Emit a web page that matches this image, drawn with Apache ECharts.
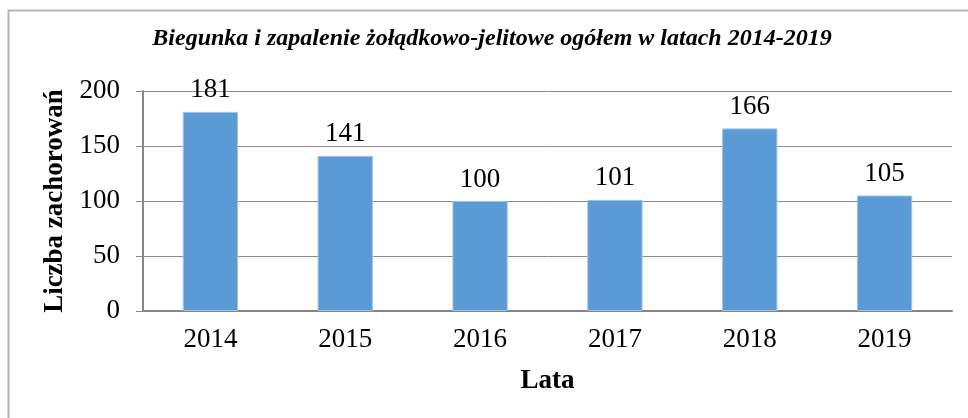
<!DOCTYPE html>
<html>
<head>
<meta charset="utf-8">
<script src="https://cdn.jsdelivr.net/npm/echarts@6/dist/echarts.min.js"></script>
<style>
  html, body { margin: 0; padding: 0; background: #fff; }
  #chart { width: 968px; height: 418px; }
</style>
</head>
<body>
<div id="chart"></div>
<script>
// Data
var years = ['2014', '2015', '2016', '2017', '2018', '2019'];
var cases = [181, 141, 100, 101, 166, 105];
var yTicks = [0, 50, 100, 150, 200];

var serif = '"Liberation Serif", "DejaVu Serif", serif';

var chart = echarts.init(document.getElementById('chart'), null, { renderer: 'canvas' });

chart.setOption({
    animation: false,
    textStyle: { fontFamily: serif },

    // Outer frame
    graphic: [{
        type: 'rect',
        shape: { x: 8.5, y: 10.5, width: 1000, height: 500 },
        style: { fill: 'none', stroke: '#b3b3b3', lineWidth: 2 },
        silent: true
    }],

    title: {
        text: 'Biegunka i zapalenie żołądkowo-jelitowe ogółem w latach 2014-2019',
        left: 487,
        textAlign: 'center',
        top: 22,
        textStyle: {
            fontFamily: serif,
            fontStyle: 'italic',
            fontWeight: 'bold',
            fontSize: 24,
            color: '#000'
        }
    },

    grid: { left: 143, right: 16, top: 91, bottom: 107 },

    xAxis: {
        type: 'category',
        data: years,
        name: 'Lata',
        nameLocation: 'middle',
        nameGap: 57,
        nameTextStyle: { fontFamily: serif, fontWeight: 'bold', fontSize: 27, color: '#000' },
        axisLine: { lineStyle: { color: '#868686', width: 2 } },
        axisTick: { show: false },
        axisLabel: { fontFamily: serif, fontSize: 27, color: '#000', margin: 15 }
    },

    yAxis: {
        type: 'value',
        min: yTicks[0],
        max: yTicks[yTicks.length - 1],
        interval: yTicks[1] - yTicks[0],
        name: 'Liczba zachorowań',
        nameLocation: 'middle',
        nameGap: 68,
        nameTextStyle: { fontFamily: serif, fontWeight: 'bold', fontSize: 27, color: '#000' },
        axisLine: { show: true, lineStyle: { color: '#868686', width: 2 } },
        axisTick: { show: true, length: 7, lineStyle: { color: '#868686', width: 1 } },
        axisLabel: { fontFamily: serif, fontSize: 27, color: '#000', margin: 23 },
        splitLine: { lineStyle: { color: '#8c8c8c', width: 1 } }
    },

    series: [{
        type: 'bar',
        data: cases,
        barWidth: '41%',
        itemStyle: { color: '#5b9bd5', borderColor: '#9dc3e6', borderWidth: 1 },
        label: {
            show: true,
            position: 'top',
            distance: 8,
            fontFamily: serif,
            fontSize: 27,
            color: '#000'
        }
    }]
});
</script>
</body>
</html>
